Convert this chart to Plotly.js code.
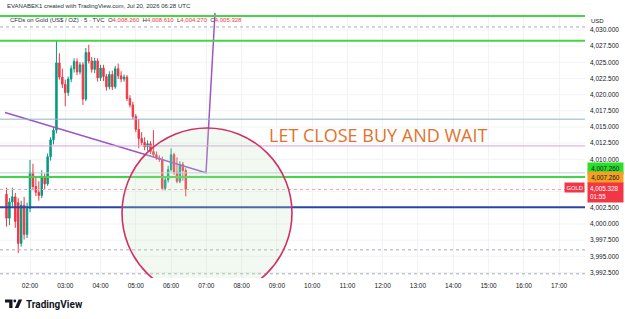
<!DOCTYPE html>
<html><head><meta charset="utf-8">
<script src="https://cdn.plot.ly/plotly-3.0.1.min.js"></script>
<style>html,body{margin:0;padding:0;background:#fff;}#chart{width:625px;height:319px;}</style>
</head><body><div id="chart"></div>
<script>
// ---------------- data ----------------
const day = "2026-07-20 ";
const times = ["01:20","01:25","01:30","01:35","01:40","01:45","01:50","01:55","02:00","02:05",
  "02:10","02:15","02:20","02:25","02:30","02:35","02:40","02:45","02:50","02:55",
  "03:00","03:05","03:10","03:15","03:20","03:25","03:30","03:35","03:40","03:45",
  "03:50","03:55","04:00","04:05","04:10","04:15","04:20","04:25","04:30","04:35",
  "04:40","04:45","04:50","04:55","05:00","05:05","05:10","05:15","05:20","05:25",
  "05:30","05:35","05:40","05:45","05:50","05:55","06:00","06:05","06:10","06:15",
  "06:20","06:25"];
const opens = [4004.6,4000.9,4003.4,4004.2,4003.3,3997.0,4002.9,3998.4,4002.4,4008.0,
  4005.8,4004.9,4004.4,4007.3,4006.2,4010.4,4013.0,4014.5,4024.9,4022.7,
  4021.6,4020.3,4022.4,4024.0,4025.1,4023.5,4024.6,4019.3,4026.5,4025.2,
  4023.9,4025.2,4022.6,4024.1,4022.8,4021.2,4023.1,4021.2,4024.0,4022.9,
  4022.4,4022.7,4019.4,4018.4,4016.6,4014.6,4013.2,4012.6,4011.9,4012.4,
  4011.2,4010.7,4010.2,4010.0,4005.5,4006.8,4008.4,4010.7,4008.0,4006.6,
  4009.2,4008.26];
const highs = [4005.6,4004.0,4005.6,4004.8,4004.0,4003.6,4004.2,4003.3,4009.9,4009.3,
  4007.4,4006.6,4008.3,4007.8,4010.9,4013.4,4015.0,4028.4,4026.4,4024.0,
  4022.3,4022.8,4024.5,4025.6,4025.6,4025.0,4025.0,4027.2,4027.7,4025.8,
  4025.7,4025.6,4024.6,4024.6,4023.2,4023.6,4023.7,4024.4,4024.8,4023.6,
  4023.1,4023.0,4019.9,4018.9,4017.0,4016.2,4014.2,4013.4,4012.9,4012.8,
  4014.5,4011.2,4010.6,4010.4,4007.2,4009.0,4011.7,4011.0,4010.3,4009.7,
  4009.6,4008.61];
const lows = [3999.6,3999.8,4002.7,3999.4,3995.5,3996.5,3997.6,3997.8,4001.8,4005.2,
  4004.3,4003.6,4004.0,4005.3,4005.9,4009.8,4012.3,4014.0,4022.3,4021.0,
  4018.2,4019.8,4021.9,4023.4,4023.0,4023.1,4018.4,4019.0,4024.8,4023.4,
  4023.3,4022.0,4022.1,4022.1,4020.6,4020.8,4020.7,4020.9,4022.4,4021.9,
  4022.0,4019.0,4018.0,4016.2,4014.2,4011.7,4012.2,4011.4,4011.3,4010.8,
  4010.3,4009.9,4009.6,4005.2,4005.2,4006.4,4008.1,4007.6,4006.3,4006.3,
  4006.7,4004.27];
const closes = [4000.9,4003.4,4004.2,4000.4,3997.0,4002.9,3998.4,4002.4,4008.0,4005.8,
  4004.9,4004.4,4007.3,4006.2,4010.4,4013.0,4014.5,4024.9,4022.7,4021.6,
  4020.3,4022.4,4024.0,4025.1,4023.5,4024.6,4019.3,4026.5,4025.2,4023.9,
  4025.2,4022.6,4024.1,4022.8,4021.2,4023.1,4021.2,4024.0,4022.9,4022.4,
  4022.7,4019.4,4018.4,4016.6,4014.6,4013.2,4012.6,4011.9,4012.4,4011.2,
  4010.7,4010.2,4010.0,4005.5,4006.8,4008.4,4010.7,4008.0,4006.6,4009.2,
  4008.26,4005.328];

// price-scale tick labels shown (those behind the price boxes are hidden)
const priceTicks = [4030.0, 4027.5, 4025.0, 4022.5, 4020.0, 4017.5, 4015.0, 4012.5, 4010.0,
  4002.5, 4000.0, 3997.5, 3995.0, 3992.5];
const gridTicks = [4030.0, 4027.5, 4025.0, 4022.5, 4020.0, 4017.5, 4015.0, 4012.5, 4010.0,
  4007.5, 4005.0, 4002.5, 4000.0, 3997.5, 3995.0, 3992.5];

const greenLevels = [4032.15, 4028.33, 4007.26];
const lightBlueLevels = [4016.2];
const pinkLevels = [4012.06];
const greyLevels = [4007.9];
const blueLevels = [4002.6];
const dottedLevels = [4030.45, 3996.0, 3992.3];
const labelGreenValue = 4007.26;
const labelOrangeValue = 4007.26;
const countdown = "01:55";

const trendTimes = ["01:17:28", "06:59:24", "07:15:21"];
const trendValues = [4017.23, 4007.93, 4033.6];
const circleTimes = ["04:36:30", "09:25:40"];
const circleValues = [3988.56, 4014.84];
const noteText = "LET CLOSE BUY AND WAIT";
const noteTime = "11:52:00";
const noteValue = 4013.76;

const headerLine1 = "EVANABEK1 created with TradingView.com, Jul 20, 2026 06:28 UTC";
const symbolText = "CFDs on Gold (US$ / OZ) · 5 · TVC";

// ---------------- layout helpers ----------------
const W = 625, H = 319, M = {l:0, r:40, t:13, b:41};
const PW = W - M.l - M.r, PH = H - M.t - M.b;
const px = x => (x - M.l) / PW;
const py = y => (H - M.b - y) / PH;
const fmt = v => v.toLocaleString('en-US', {minimumFractionDigits:3, maximumFractionDigits:3});
const FONT = "Liberation Sans, Arial, sans-serif";
const RED = "#f23645", UP = "#089981";

const last = closes.length - 1;

const traces = [
  {
    type: 'candlestick',
    x: times.map(t => day + t),
    open: opens, high: highs, low: lows, close: closes,
    increasing: {line: {color: UP, width: 1}, fillcolor: UP},
    decreasing: {line: {color: RED, width: 1}, fillcolor: RED},
    whiskerwidth: 0,
    hoverinfo: 'skip'
  },
  {
    type: 'scatter', mode: 'lines',
    x: trendTimes.map(t => day + t), y: trendValues,
    line: {color: '#9c56c6', width: 1.5},
    hoverinfo: 'skip'
  }
];

const shapes = [];
const hline = (v, color, width, dash, layer) => shapes.push({
  type: 'line', xref: 'paper', x0: 0, x1: 1, yref: 'y', y0: v, y1: v,
  line: {color, width, dash: dash || 'solid'}, layer: layer || 'above'
});
gridTicks.forEach(v => hline(v, '#f2f3f6', 1, 'solid', 'below'));
dottedLevels.forEach(v => hline(v, '#a9acb4', 1, 'dot'));
lightBlueLevels.forEach(v => hline(v, '#8fb1cf', 1));
pinkLevels.forEach(v => hline(v, '#d9a2de', 1));
greyLevels.forEach(v => hline(v, '#c3d0dc', 1));
hline(closes[last], '#f2a3aa', 1, 'dot');
blueLevels.forEach(v => hline(v, '#2a44a8', 2));
greenLevels.forEach(v => hline(v, '#45d445', 2));

shapes.push({
  type: 'circle', xref: 'x', yref: 'y',
  x0: day + circleTimes[0], x1: day + circleTimes[1],
  y0: circleValues[0], y1: circleValues[1],
  line: {color: '#d42e66', width: 1.6},
  fillcolor: 'rgba(196,228,190,0.22)', layer: 'above'
});

// TradingView logo
const P = (x, y) => px(x).toFixed(5) + ',' + py(y).toFixed(5);
shapes.push({type:'path', xref:'paper', yref:'paper',
  path: 'M' + P(5,299.5) + ' L' + P(12.5,299.5) + ' L' + P(12.5,308) + ' L' + P(9.2,308) + ' L' + P(9.2,302.6) + ' L' + P(5,302.6) + ' Z',
  fillcolor:'#131722', line:{width:0}});
shapes.push({type:'circle', xref:'paper', yref:'paper',
  x0: px(13.4), x1: px(16.2), y0: py(302.4), y1: py(299.6),
  fillcolor:'#131722', line:{width:0}});
shapes.push({type:'path', xref:'paper', yref:'paper',
  path: 'M' + P(18.6,299.5) + ' L' + P(22.2,299.5) + ' L' + P(18.4,308) + ' L' + P(14.8,308) + ' Z',
  fillcolor:'#131722', line:{width:0}});

const red = s => '<span style="color:' + RED + '">' + s + '</span>';
const header2 = symbolText + '  O' + red(fmt(opens[last])) + '  H' + red(fmt(highs[last])) +
  '  L' + red(fmt(lows[last])) + '  C' + red(fmt(closes[last]));

const annotations = [
  {xref:'paper', yref:'paper', x: px(5), y: py(6.5), xanchor:'left', yanchor:'middle',
   text: headerLine1, showarrow:false, font:{family:FONT, size:6, color:'#2a2e39'}},
  {xref:'paper', yref:'paper', x: px(8), y: py(20), xanchor:'left', yanchor:'middle',
   text: header2, showarrow:false, font:{family:FONT, size:6, color:'#2a2e39'}},
  {xref:'paper', yref:'paper', x: px(589), y: py(21), xanchor:'left', yanchor:'middle',
   text: 'USD', showarrow:false, bgcolor:'#ffffff', borderpad:1,
   font:{family:FONT, size:6, color:'#131722'}},
  {xref:'paper', yref:'y', x: px(587), y: labelGreenValue, yshift: 9, xanchor:'left', yanchor:'middle',
   text: fmt(labelGreenValue), showarrow:false, bgcolor:'#27e027', borderpad:2, width:31,
   font:{family:FONT, size:6.3, color:'#131722'}},
  {xref:'paper', yref:'y', x: px(587), y: labelOrangeValue, xanchor:'left', yanchor:'middle',
   text: fmt(labelOrangeValue), showarrow:false, bgcolor:'#f4a023', borderpad:2, width:31,
   font:{family:FONT, size:6.3, color:'#131722'}},
  {xref:'paper', yref:'y', x: px(587), y: closes[last], yshift:-2.5, xanchor:'left', yanchor:'middle',
   text: fmt(closes[last]) + '<br>' + countdown, align:'left', showarrow:false, bgcolor:RED, borderpad:2, width:31,
   font:{family:FONT, size:6.3, color:'#ffffff'}},
  {xref:'paper', yref:'y', x: px(585), y: closes[last], yshift:2, xanchor:'right', yanchor:'middle',
   text: 'GOLD', showarrow:false, bgcolor:RED, borderpad:1.5,
   font:{family:FONT, size:5.8, color:'#ffffff'}},
  {xref:'x', yref:'y', x: day + noteTime, y: noteValue, xanchor:'center', yanchor:'middle',
   text: noteText, showarrow:false, font:{family:'Open Sans, sans-serif', size:18, color:'#e2722a'}},
  {xref:'paper', yref:'paper', x: px(23.5), y: py(304), xanchor:'left', yanchor:'middle',
   text: '<b>TradingView</b>', showarrow:false, font:{family:'Roboto, Inter, sans-serif', size:10, color:'#131722'}}
];

const layout = {
  width: W, height: H, margin: M,
  paper_bgcolor: '#ffffff', plot_bgcolor: '#ffffff',
  showlegend: false, hovermode: false, dragmode: false,
  xaxis: {
    type: 'date', range: [day + '01:08:58', day + '17:44:08'],
    tickformat: '%H:%M', dtick: 3600000, tick0: day + '02:00',
    rangeslider: {visible: false},
    showgrid: true, gridcolor: '#f2f3f6', gridwidth: 1, zeroline: false,
    showline: false, ticks: '', ticklabelstandoff: 2,
    tickfont: {family: FONT, size: 6.5, color: '#131722'}
  },
  yaxis: {
    side: 'right', range: [3991.65, 4032.61],
    tickmode: 'array', tickvals: priceTicks, ticktext: priceTicks.map(fmt),
    showgrid: false, zeroline: false,
    showline: false, ticks: '', ticklabelstandoff: 4,
    tickfont: {family: FONT, size: 6.5, color: '#131722'}
  },
  shapes, annotations
};

Plotly.newPlot('chart', traces, layout, {displayModeBar: false, staticPlot: true});
</script>
</body></html>
